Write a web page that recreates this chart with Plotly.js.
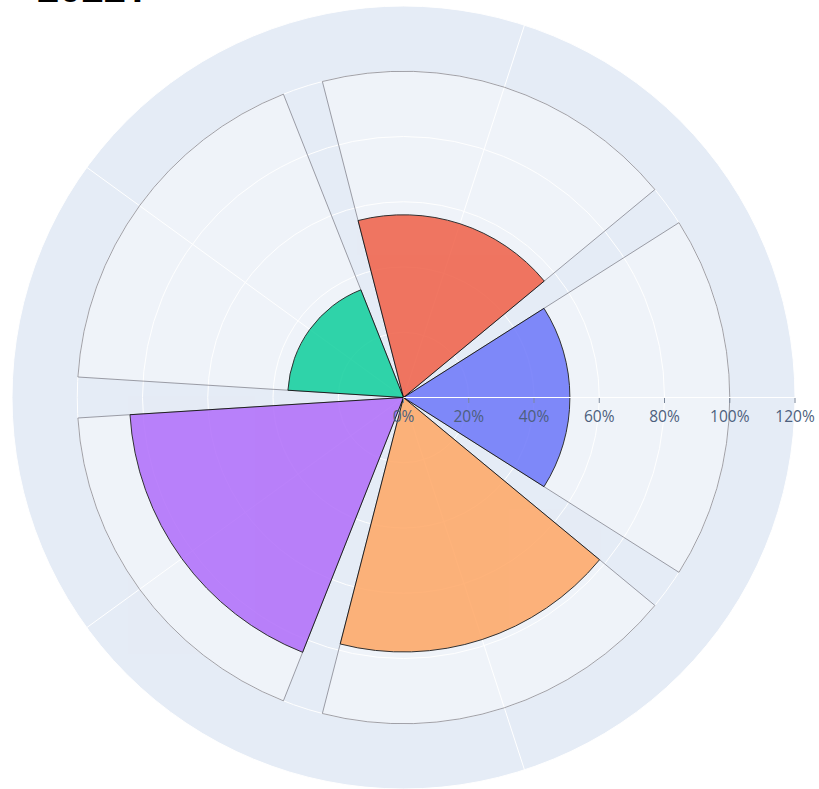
<!DOCTYPE html>
<html>
<head>
<meta charset="utf-8">
<script src="https://cdn.plot.ly/plotly-3.0.1.min.js"></script>
<style>html,body{margin:0;padding:0;background:#fff;}#chart{width:819px;height:789px;}</style>
</head>
<body>
<div id="chart"></div>
<script>
// Data
const categories = ['Category A', 'Category B', 'Category C', 'Category D', 'Category E'];
const values = [51, 56, 35.5, 84, 78];          // percent
const fullValues = [100, 100, 100, 100, 100];    // background reference bars
const colors = ['#636EFA', '#EF553B', '#00CC96', '#AB63FA', '#FFA15A'];
const radialTicks = [0, 20, 40, 60, 80, 100, 120];
const titleText = '2022?';

const bgTrace = {
  type: 'barpolar',
  r: fullValues,
  theta: categories,
  marker: {color: 'rgba(255,255,255,0.4)', line: {color: 'rgba(120,120,130,0.7)', width: 1}},
  hoverinfo: 'skip',
  showlegend: false
};
const valTrace = {
  type: 'barpolar',
  r: values,
  theta: categories,
  marker: {color: colors, opacity: 0.8, line: {color: '#000', width: 1}},
  showlegend: false
};

const layout = {
  width: 819, height: 789,
  margin: {l: 12, r: 24, t: 6, b: 0},
  paper_bgcolor: '#ffffff',
  font: {family: '"Open Sans", Verdana, Arial, sans-serif', color: '#2a3f5f'},
  annotations: [{
    text: '<b>' + titleText + '</b>',
    xref: 'paper', yref: 'paper',
    x: 0.029, xanchor: 'left',
    y: 1, yanchor: 'bottom', yshift: -5.5,
    showarrow: false,
    font: {size: 40, family: 'Arial, "Liberation Sans", sans-serif', color: '#000'}
  }],
  showlegend: false,
  polar: {
    bgcolor: '#E5ECF6',
    barmode: 'overlay',
    bargap: 0.1,
    domain: {x: [0, 1], y: [0, 1]},
    radialaxis: {
      range: [0, 120],
      tickvals: radialTicks,
      ticktext: radialTicks.map(v => v + '%'),
      ticks: 'outside', ticklen: 5, tickcolor: '#7a8699',
      tickfont: {size: 15.5, color: '#4d5f7d'},
      gridcolor: '#ffffff', linecolor: '#ffffff', showline: true,
      angle: 0, tickangle: 0
    },
    angularaxis: {
      type: 'category',
      showticklabels: false,
      ticks: '',
      gridcolor: '#ffffff', linecolor: '#ffffff',
      rotation: 0, direction: 'counterclockwise'
    }
  }
};

Plotly.newPlot('chart', [bgTrace, valTrace], layout, {displayModeBar: false, staticPlot: true});
</script>
</body>
</html>
